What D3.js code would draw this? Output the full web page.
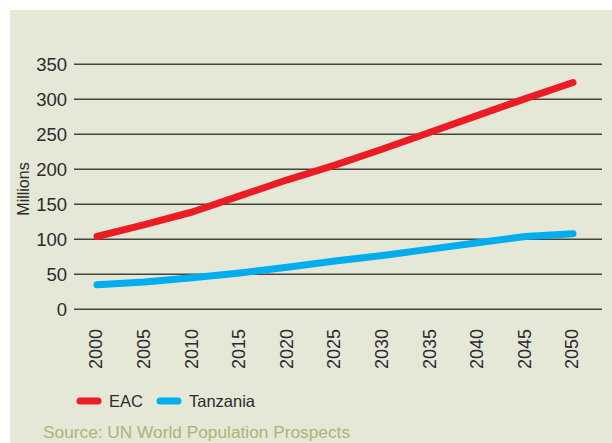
<!DOCTYPE html>
<html>
<head>
<meta charset="utf-8">
<script src="https://cdn.jsdelivr.net/npm/d3@7"></script>
<style>
    body { margin: 0; background: #fff; }
    text { font-family: "Liberation Sans", Arial, sans-serif; }
</style>
</head>
<body>
<div id="chart"></div>
<script>
// data (millions)
var years = [2000, 2005, 2010, 2015, 2020, 2025, 2030, 2035, 2040, 2045, 2050];
var eac = [104, 121, 139, 162, 185, 206, 229, 253, 277, 301, 324];
var tanzania = [35, 39, 45, 52, 60, 69, 77, 86, 95, 104, 108];
var yTicks = [0, 50, 100, 150, 200, 250, 300, 350];
var seriesNames = ["EAC", "Tanzania"];
var seriesColors = ["#ed1c24", "#00aeef"];

var W = 612, H = 443;

var svg = d3.select("#chart").append("svg")
    .attr("width", W)
    .attr("height", H);

// panel background
svg.append("rect")
    .attr("x", 10).attr("y", 10)
    .attr("width", W - 10).attr("height", H - 10)
    .attr("fill", "#e6e8d7");

var x = d3.scaleLinear().domain([2000, 2050]).range([97, 573]);
var y = d3.scaleLinear().domain([0, 350]).range([309.3, 64.3]);

// gridlines
svg.append("g").selectAll("line")
    .data(yTicks)
    .enter().append("line")
    .attr("x1", 74).attr("x2", 602)
    .attr("y1", d => y(d)).attr("y2", d => y(d))
    .attr("stroke", "#45453d")
    .attr("stroke-width", 1.6);

// y tick labels
svg.append("g").selectAll("text")
    .data(yTicks)
    .enter().append("text")
    .attr("x", 67)
    .attr("y", d => y(d))
    .attr("dy", "0.35em")
    .attr("text-anchor", "end")
    .attr("font-size", 18.5)
    .attr("fill", "#2b2b2b")
    .text(d => d);

// y title
svg.append("text")
    .attr("transform", "translate(29,189) rotate(-90)")
    .attr("text-anchor", "middle")
    .attr("font-size", 16)
    .attr("fill", "#2b2b2b")
    .text("Millions");

// x tick labels (rotated)
svg.append("g").selectAll("text")
    .data(years)
    .enter().append("text")
    .attr("transform", d => `translate(${x(d) - 1},329) rotate(-90)`)
    .attr("dy", "0.35em")
    .attr("text-anchor", "end")
    .attr("font-size", 18)
    .attr("fill", "#2b2b2b")
    .text(d => d);

// lines
var line = d3.line()
    .x((d, i) => x(years[i]))
    .y(d => y(d));

[eac, tanzania].forEach((vals, i) => {
    svg.append("path")
        .datum(vals)
        .attr("d", line)
        .attr("fill", "none")
        .attr("stroke", seriesColors[i])
        .attr("stroke-width", 7)
        .attr("stroke-linecap", "round")
        .attr("stroke-linejoin", "round");
});

// legend
var legendX = [80, 160];
var legend = svg.append("g").selectAll("g")
    .data(seriesNames)
    .enter().append("g")
    .attr("transform", (d, i) => `translate(${legendX[i]},401)`);

legend.append("line")
    .attr("x1", 0).attr("x2", 18)
    .attr("stroke", (d, i) => seriesColors[i])
    .attr("stroke-width", 7)
    .attr("stroke-linecap", "round");

legend.append("text")
    .attr("x", 29)
    .attr("dy", "0.35em")
    .attr("font-size", 16.5)
    .attr("fill", "#2b2b2b")
    .text(d => d);

// source note
svg.append("text")
    .attr("x", 43)
    .attr("y", 438)
    .attr("font-size", 17.3)
    .attr("fill", "#a6b774")
    .text("Source: UN World Population Prospects");
</script>
</body>
</html>
